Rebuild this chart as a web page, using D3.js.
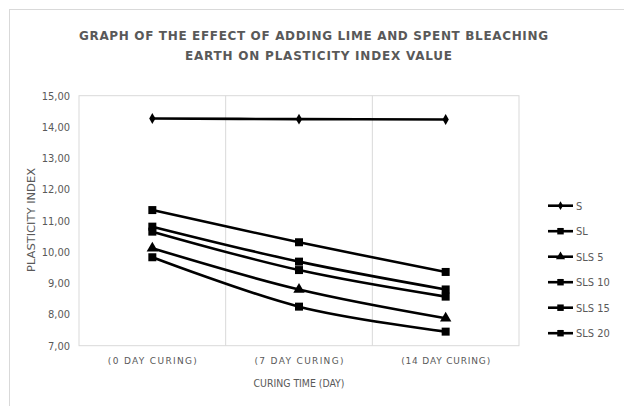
<!DOCTYPE html>
<html><head><meta charset="utf-8">
<script src="https://cdn.jsdelivr.net/npm/d3@7/dist/d3.min.js"></script>
<style>body{margin:0;background:#fff}svg{display:block}</style>
</head><body><svg id="c" width="624" height="406"></svg>
<script>
const categories = ["(0 DAY CURING)", "(7 DAY CURING)", "(14 DAY CURING)"];
const seriesNames = ["S", "SL", "SLS 5", "SLS 10", "SLS 15", "SLS 20"];
const S = [14.27, 14.25, 14.24];
const SL = [11.34, 10.31, 9.36];
const SLS5 = [10.12, 8.80, 7.88];
const SLS10 = [10.81, 9.69, 8.80];
const SLS15 = [10.65, 9.42, 8.57];
const SLS20 = [9.83, 8.25, 7.45];
const markers = ["diamond", "square", "triangle", "square", "square", "square"];
const yTicks = [7, 8, 9, 10, 11, 12, 13, 14, 15];

const allSeries = [S, SL, SLS5, SLS10, SLS15, SLS20];
const svg = d3.select("#c");
const m = {l: 79, r: 519, t: 95.7, b: 345.7};
const grey = "#595959";
const narrow = "'DejaVu Sans Condensed', 'Liberation Sans Narrow', sans-serif";

svg.append("rect").attr("x", 9.5).attr("y", 9.5).attr("width", 700).attr("height", 500)
  .attr("fill", "none").attr("stroke", "#d9d9d9");

const x = d3.scaleBand().domain(categories).range([m.l, m.r]);
const y = d3.scaleLinear().domain([7, 15]).range([m.b, m.t]);

svg.append("rect").attr("x", m.l).attr("y", m.t).attr("width", m.r - m.l).attr("height", m.b - m.t)
  .attr("fill", "none").attr("stroke", "#d9d9d9");
categories.slice(1).forEach(c => {
  svg.append("line").attr("x1", x(c)).attr("x2", x(c)).attr("y1", m.t).attr("y2", m.b)
    .attr("stroke", "#d9d9d9");
});

const yAxis = svg.append("g").attr("transform", `translate(${m.l},0)`)
  .call(d3.axisLeft(y).tickValues(yTicks).tickSize(0).tickPadding(9)
    .tickFormat(d => d3.format(".2f")(d).replace(".", ",")));
yAxis.select(".domain").remove();
yAxis.selectAll("text").attr("fill", grey).style("font-family", narrow).style("font-size", "11px");

const xAxis = svg.append("g").attr("transform", `translate(0,${m.b})`)
  .call(d3.axisBottom(x).tickSize(0).tickPadding(12));
xAxis.select(".domain").remove();
xAxis.selectAll("text").attr("fill", grey).style("font-family", "'DejaVu Sans', sans-serif")
  .style("font-size", "9px").attr("textLength", 89).attr("lengthAdjust", "spacing");

const cx = c => x(c) + x.bandwidth() / 2;
const line = d3.line().x((d, i) => cx(categories[i])).y(d => y(d)).curve(d3.curveCardinal.tension(0));

const symbolMap = {diamond: d3.symbolDiamond, square: d3.symbolSquare, triangle: d3.symbolTriangle};
const symbolSize = {diamond: 34, square: 64, triangle: 56};

allSeries.forEach((vals, si) => {
  svg.append("path").datum(vals).attr("d", line).attr("fill", "none")
    .attr("stroke", "#000").attr("stroke-width", 2.6);
  const sym = d3.symbol().type(symbolMap[markers[si]]).size(symbolSize[markers[si]]);
  vals.forEach((v, i) => {
    svg.append("path").attr("d", sym()).attr("fill", "#000")
      .attr("transform", `translate(${cx(categories[i])},${y(v)})`);
  });
});

seriesNames.forEach((n, i) => {
  const ly = 205.7 + i * 25.5;
  svg.append("line").attr("x1", 548).attr("x2", 573).attr("y1", ly).attr("y2", ly)
    .attr("stroke", "#000").attr("stroke-width", 2.6);
  const t = markers[i];
  const sym = d3.symbol().type(symbolMap[t]).size(t === "diamond" ? 22 : t === "square" ? 42 : 36);
  svg.append("path").attr("d", sym()).attr("fill", "#000").attr("transform", `translate(560.5,${ly})`);
  svg.append("text").attr("x", 576).attr("y", ly).attr("dy", "0.35em").text(n)
    .attr("fill", grey).style("font-family", narrow).style("font-size", "11px");
});

const title = svg.append("g").attr("fill", grey).style("font-family", "'DejaVu Sans', sans-serif")
  .style("font-weight", "bold").style("font-size", "12px");
title.append("text").attr("x", 313.5).attr("y", 40).attr("text-anchor", "middle")
  .attr("textLength", 469).attr("lengthAdjust", "spacing")
  .text("GRAPH OF THE EFFECT OF ADDING LIME AND SPENT BLEACHING");
title.append("text").attr("x", 318.5).attr("y", 60).attr("text-anchor", "middle")
  .attr("textLength", 267).attr("lengthAdjust", "spacing")
  .text("EARTH ON PLASTICITY INDEX VALUE");

svg.append("text").attr("transform", `translate(35,220) rotate(-90)`).attr("text-anchor", "middle")
  .attr("fill", grey).style("font-family", narrow).style("font-size", "10.5px")
  .attr("textLength", 104).attr("lengthAdjust", "spacingAndGlyphs")
  .text("PLASTICITY INDEX");
svg.append("text").attr("x", 299).attr("y", 387).attr("text-anchor", "middle")
  .attr("fill", grey).style("font-family", narrow).style("font-size", "10.5px")
  .attr("textLength", 91).attr("lengthAdjust", "spacingAndGlyphs")
  .text("CURING TIME (DAY)");
</script></body></html>
